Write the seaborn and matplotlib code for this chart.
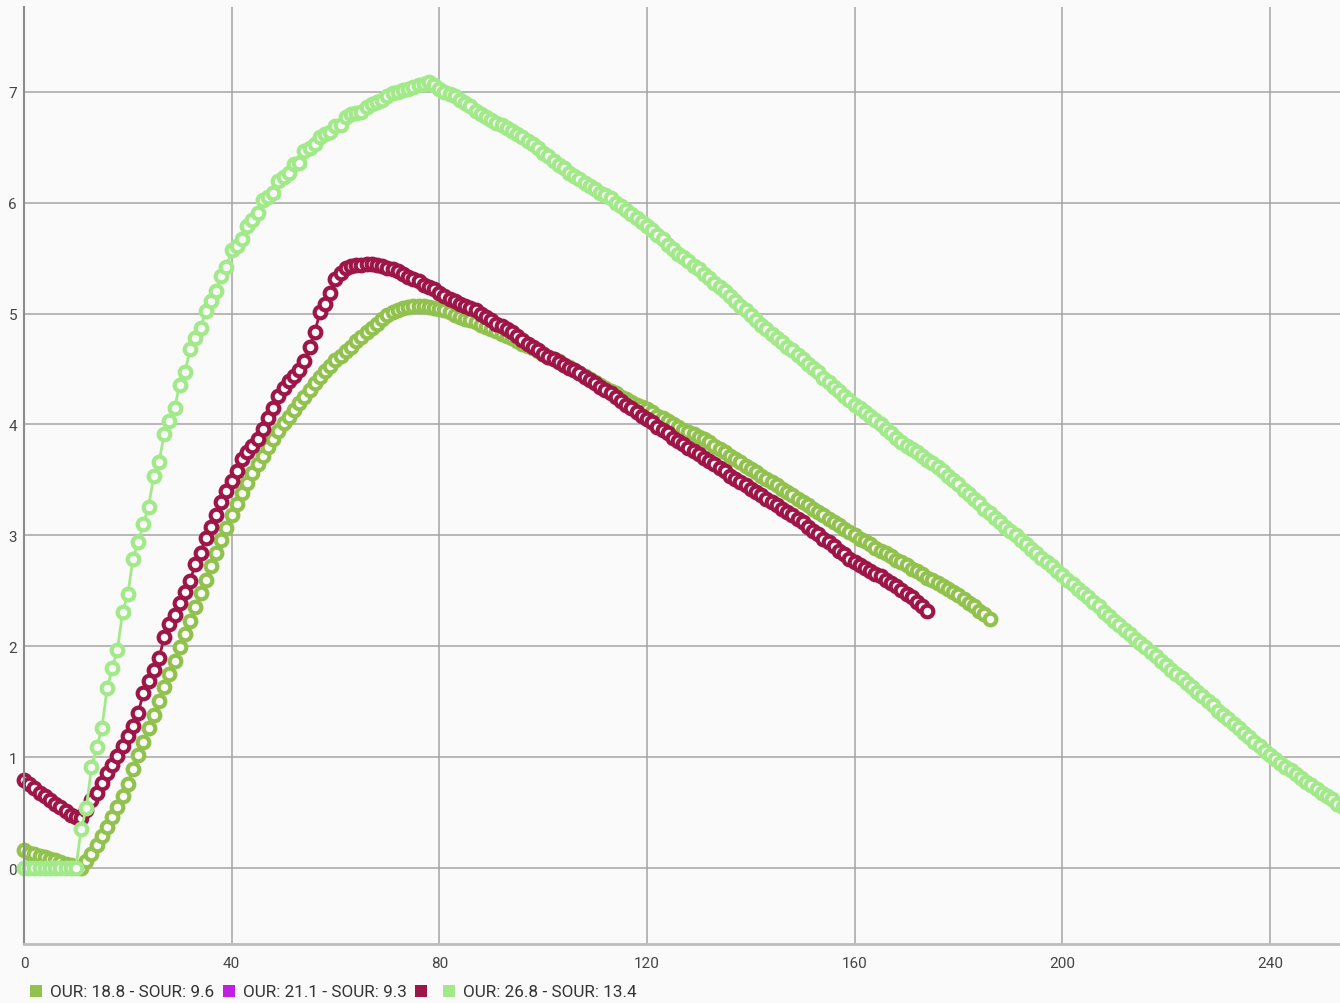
import numpy as np
import matplotlib
matplotlib.use("Agg")
import matplotlib.pyplot as plt
from matplotlib.lines import Line2D
import seaborn as sns

# values, one sample per minute
olive_y = [
    0.16, 0.14, 0.13, 0.11, 0.10, 0.08, 0.07, 0.05, 0.04, 0.03,
    0.01, 0.00, 0.06, 0.13, 0.21, 0.29, 0.37, 0.46, 0.55, 0.65,
    0.76, 0.89, 1.02, 1.14, 1.26, 1.38, 1.51, 1.63, 1.75, 1.87,
    1.99, 2.11, 2.23, 2.35, 2.48, 2.60, 2.72, 2.84, 2.96, 3.07,
    3.18, 3.28, 3.38, 3.47, 3.56, 3.64, 3.72, 3.80, 3.87, 3.94,
    4.01, 4.07, 4.13, 4.19, 4.25, 4.31, 4.37, 4.43, 4.48, 4.53,
    4.58, 4.62, 4.66, 4.70, 4.75, 4.79, 4.83, 4.87, 4.91, 4.95,
    4.99, 5.01, 5.03, 5.05, 5.06, 5.07, 5.07, 5.07, 5.06, 5.05,
    5.04, 5.03, 5.01, 4.99, 4.97, 4.95, 4.94, 4.92, 4.90, 4.88,
    4.86, 4.84, 4.82, 4.80, 4.78, 4.75, 4.73, 4.71, 4.69, 4.66,
    4.64, 4.61, 4.59, 4.57, 4.54, 4.52, 4.49, 4.46, 4.44, 4.41,
    4.38, 4.36, 4.33, 4.30, 4.28, 4.25, 4.23, 4.20, 4.18, 4.16,
    4.14, 4.11, 4.08, 4.06, 4.03, 4.00, 3.98, 3.95, 3.93, 3.91,
    3.89, 3.87, 3.84, 3.81, 3.78, 3.75, 3.72, 3.69, 3.66, 3.63,
    3.60, 3.57, 3.54, 3.51, 3.48, 3.45, 3.42, 3.39, 3.36, 3.33,
    3.30, 3.27, 3.24, 3.21, 3.18, 3.15, 3.12, 3.09, 3.06, 3.03,
    3.00, 2.97, 2.95, 2.92, 2.89, 2.86, 2.84, 2.81, 2.78, 2.76,
    2.73, 2.70, 2.68, 2.65, 2.62, 2.60, 2.57, 2.54, 2.52, 2.49,
    2.46, 2.43, 2.39, 2.36, 2.32, 2.29, 2.25,
]

crimson_y = [
    0.79, 0.76, 0.72, 0.68, 0.65, 0.61, 0.58, 0.55, 0.51, 0.48,
    0.46, 0.45, 0.52, 0.61, 0.68, 0.77, 0.86, 0.93, 1.01, 1.10,
    1.19, 1.28, 1.40, 1.58, 1.69, 1.79, 1.89, 2.08, 2.20, 2.28,
    2.39, 2.49, 2.59, 2.74, 2.84, 2.98, 3.08, 3.18, 3.30, 3.40,
    3.49, 3.58, 3.69, 3.75, 3.81, 3.87, 3.96, 4.06, 4.15, 4.26,
    4.33, 4.39, 4.44, 4.49, 4.57, 4.70, 4.83, 5.01, 5.09, 5.19,
    5.31, 5.37, 5.41, 5.43, 5.44, 5.44, 5.45, 5.45, 5.44, 5.43,
    5.41, 5.40, 5.38, 5.36, 5.33, 5.31, 5.29, 5.26, 5.24, 5.22,
    5.19, 5.16, 5.13, 5.11, 5.09, 5.07, 5.05, 5.03, 5.00, 4.97,
    4.94, 4.91, 4.89, 4.86, 4.83, 4.80, 4.76, 4.73, 4.70, 4.67,
    4.64, 4.61, 4.59, 4.56, 4.54, 4.51, 4.49, 4.46, 4.43, 4.40,
    4.37, 4.34, 4.31, 4.28, 4.25, 4.21, 4.18, 4.15, 4.11, 4.08,
    4.05, 4.02, 3.98, 3.95, 3.92, 3.88, 3.85, 3.82, 3.79, 3.76,
    3.73, 3.70, 3.67, 3.64, 3.61, 3.58, 3.54, 3.51, 3.48, 3.45,
    3.42, 3.39, 3.36, 3.33, 3.30, 3.27, 3.24, 3.21, 3.18, 3.15,
    3.12, 3.08, 3.04, 3.01, 2.97, 2.94, 2.90, 2.86, 2.83, 2.79,
    2.76, 2.73, 2.71, 2.68, 2.65, 2.63, 2.60, 2.57, 2.54, 2.51,
    2.47, 2.44, 2.40, 2.36, 2.32,
]

lightgreen_y = [
    0.00, 0.00, 0.00, 0.00, 0.00, 0.00, 0.00, 0.00, 0.00, 0.00,
    0.00, 0.35, 0.54, 0.91, 1.09, 1.26, 1.62, 1.80, 1.97, 2.31,
    2.47, 2.79, 2.94, 3.10, 3.26, 3.54, 3.66, 3.91, 4.03, 4.15,
    4.36, 4.47, 4.68, 4.78, 4.87, 5.02, 5.11, 5.20, 5.34, 5.42,
    5.57, 5.61, 5.67, 5.79, 5.84, 5.91, 6.02, 6.05, 6.09, 6.20,
    6.23, 6.27, 6.35, 6.36, 6.47, 6.49, 6.53, 6.59, 6.62, 6.64,
    6.69, 6.70, 6.77, 6.80, 6.81, 6.82, 6.86, 6.89, 6.91, 6.93,
    6.96, 6.99, 7.00, 7.02, 7.03, 7.04, 7.06, 7.07, 7.09, 7.06,
    7.03, 7.00, 6.98, 6.96, 6.93, 6.90, 6.87, 6.83, 6.80, 6.77,
    6.75, 6.72, 6.70, 6.67, 6.65, 6.62, 6.59, 6.56, 6.53, 6.49,
    6.45, 6.42, 6.38, 6.34, 6.31, 6.27, 6.24, 6.21, 6.18, 6.15,
    6.12, 6.09, 6.07, 6.04, 6.00, 5.97, 5.93, 5.90, 5.86, 5.83,
    5.79, 5.75, 5.71, 5.67, 5.62, 5.58, 5.54, 5.51, 5.47, 5.43,
    5.40, 5.36, 5.32, 5.28, 5.24, 5.20, 5.16, 5.11, 5.07, 5.03,
    4.99, 4.94, 4.90, 4.86, 4.82, 4.78, 4.74, 4.70, 4.67, 4.63,
    4.59, 4.55, 4.51, 4.47, 4.42, 4.38, 4.34, 4.30, 4.26, 4.22,
    4.18, 4.15, 4.11, 4.08, 4.04, 4.00, 3.96, 3.92, 3.88, 3.84,
    3.81, 3.78, 3.75, 3.72, 3.68, 3.65, 3.62, 3.58, 3.54, 3.50,
    3.46, 3.41, 3.37, 3.33, 3.29, 3.24, 3.20, 3.16, 3.12, 3.08,
    3.04, 3.00, 2.96, 2.92, 2.88, 2.84, 2.80, 2.76, 2.72, 2.68,
    2.64, 2.60, 2.56, 2.52, 2.48, 2.44, 2.40, 2.36, 2.31, 2.27,
    2.23, 2.19, 2.15, 2.11, 2.07, 2.03, 1.99, 1.95, 1.91, 1.87,
    1.83, 1.79, 1.75, 1.71, 1.67, 1.63, 1.59, 1.55, 1.51, 1.47,
    1.42, 1.38, 1.34, 1.30, 1.26, 1.22, 1.18, 1.14, 1.10, 1.06,
    1.02, 0.98, 0.95, 0.91, 0.88, 0.85, 0.81, 0.78, 0.75, 0.71,
    0.68, 0.65, 0.62, 0.58, 0.55, 0.52,
]

legend_labels = ["OUR: 18.8 - SOUR: 9.6", "OUR: 21.1 - SOUR: 9.3", "",
                 "OUR: 26.8 - SOUR: 13.4"]
x_ticks = [0, 40, 80, 120, 160, 200, 240]
y_ticks = [0, 1, 2, 3, 4, 5, 6, 7]

OLIVE = "#92c24e"
PURPLE = "#c220e0"
CRIMSON = "#9e1548"
LIGHT = "#a2e98a"
BG = "#fafafa"

sns.set_theme(style="white")
plt.rcParams["font.family"] = ["Roboto", "DejaVu Sans"]

fig = plt.figure(figsize=(13.4, 10.04), dpi=100, facecolor=BG)
ax = fig.add_axes([24 / 1340, 1 - 945 / 1004, 1 - 24 / 1340, (945 - 8) / 1004])
ax.set_facecolor(BG)

series = [(olive_y, OLIVE), (crimson_y, CRIMSON), (lightgreen_y, LIGHT)]
for vals, col in series:
    xs = np.arange(len(vals))
    sns.lineplot(x=xs, y=vals, ax=ax, color=col, linewidth=2, marker="o",
                 markersize=8.4, markeredgewidth=3.0, markeredgecolor=col,
                 markerfacecolor=BG, legend=False, clip_on=False)

ax.set_xlim(0, 253.5)
ax.set_ylim(-0.685, 7.765)
ax.set_xticks(x_ticks)
ax.set_yticks(y_ticks)
ax.set_xlabel("")
ax.set_ylabel("")
ax.grid(True, color="#a4a4a4", linewidth=1.1)
ax.set_axisbelow(True)
ax.tick_params(axis="both", length=0, labelsize=11, labelcolor="#444444")
ax.tick_params(axis="x", pad=9)
ax.tick_params(axis="y", pad=5)
for s in ["top", "right"]:
    ax.spines[s].set_visible(False)
ax.spines["left"].set_color("#8c8c8c")
ax.spines["left"].set_linewidth(1.5)
ax.spines["bottom"].set_color("#bdbdbd")
ax.spines["bottom"].set_linewidth(2)

handles = [Line2D([], [], linestyle="none", marker="s", markersize=9,
                  markeredgewidth=0, color=c)
           for c in [OLIVE, PURPLE, CRIMSON, LIGHT]]
fig.legend(handles, legend_labels, loc="center left",
           bbox_to_anchor=(30 / 1340, 1 - 993 / 1004), ncol=4, frameon=False,
           fontsize=12.3, handlelength=0.75, handletextpad=0.45,
           columnspacing=0.45, borderpad=0, borderaxespad=0,
           labelcolor="#333333")

fig.savefig("out.png", dpi=100, facecolor=BG)
